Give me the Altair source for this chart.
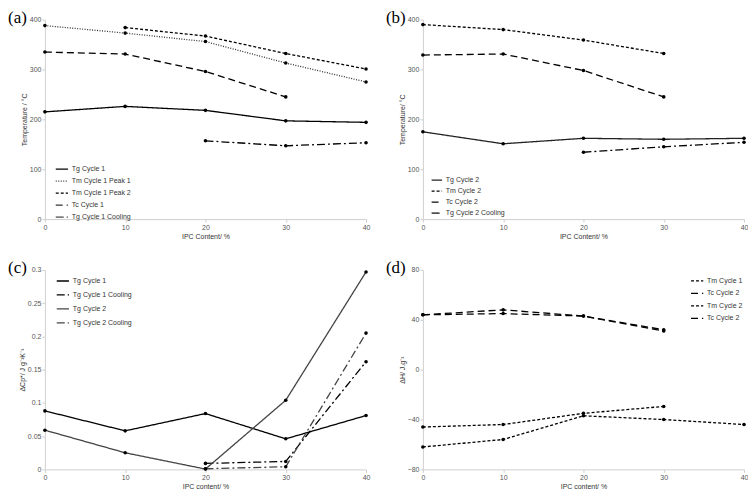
import altair as alt
import pandas as pd

# ---------------- data ----------------
x_vals = [0, 10, 20, 30, 40]

# (a) temperatures, cycle 1
a_names = ["Tg Cycle 1", "Tm Cycle 1 Peak 1", "Tm Cycle 1 Peak 2", "Tc Cycle 1", "Tg Cycle 1 Cooling"]
a_tg1 = [215, 226, 218, 197, 194]
a_tm1p1 = [388, 373, 356, 313, 275]
a_tm1p2 = [None, 384, 367, 332, 301]
a_tc1 = [335, 331, 296, 245, None]
a_tg1c = [None, None, 157, 147, 153]

# (b) temperatures, cycle 2
b_names = ["Tg Cycle 2", "Tm Cycle 2", "Tc Cycle 2", "Tg Cycle 2 Cooling"]
b_tg2 = [175, 151, 162, 160, 162]
b_tm2 = [390, 380, 359, 332, None]
b_tc2 = [329, 331, 298, 245, None]
b_tg2c = [None, None, 134, 145, 154]

# (c) delta Cp
c_names = ["Tg Cycle 1", "Tg Cycle 1 Cooling", "Tg Cycle 2", "Tg Cycle 2 Cooling"]
c_tg1 = [0.088, 0.058, 0.084, 0.046, 0.081]
c_tg1c = [None, None, 0.009, 0.012, 0.162]
c_tg2 = [0.059, 0.025, 0.0005, 0.104, 0.297]
c_tg2c = [None, None, 0.001, 0.004, 0.205]

# (d) delta H
d_names = ["Tm Cycle 1", "Tc Cycle 2", "Tm Cycle 2", "Tc Cycle 2 "]
d_tm1 = [-62, -56, -37, -40, -44]
d_tc1 = [44, 48, 43, 32, None]
d_tm2 = [-46, -44, -35, -29.5, None]
d_tc2 = [44, 45, 43, 31, None]

FONT = "Liberation Sans"
SOLID = [1, 0]
DOT = [1, 1.5]
SHORT = [3, 2]
LONG = [7, 4]
DASHDOT = [8, 3, 2, 3]


def long_df(names, series, key):
    rows = []
    for n, vals in zip(names, series):
        for x, v in zip(x_vals, vals):
            if v is not None:
                rows.append({"x": x, "y": v, key: n})
    return pd.DataFrame(rows)


def panel(key, names, series, dashes, colors, widths, label, ytitle, xtitle,
          ydomain, yvalues, yformat, lx, ly, rowpad, symsize):
    df = long_df(names, series, key)
    W, H = 322, 200
    xenc = alt.X("x:Q", scale=alt.Scale(domain=[0, 40], nice=False),
                 axis=alt.Axis(values=x_vals, format="d", title=xtitle, labelFlush=False))
    yenc = alt.Y("y:Q", scale=alt.Scale(domain=ydomain, nice=False),
                 axis=alt.Axis(values=yvalues, format=yformat, title=ytitle, labelOverlap=False))
    legend = alt.Legend(orient="none", legendX=lx, legendY=ly, title=None,
                        symbolType="stroke", symbolStrokeWidth=1.2, symbolSize=symsize,
                        labelFont=FONT, labelFontSize=7, labelColor="#333333",
                        rowPadding=rowpad, padding=0, labelOffset=3)
    f = f"{key}:N"
    lines = alt.Chart(df).mark_line(strokeWidth=1.3).encode(
        x=xenc, y=yenc,
        strokeDash=alt.StrokeDash(f, scale=alt.Scale(domain=names, range=dashes), legend=legend),
        color=alt.Color(f, scale=alt.Scale(domain=names, range=colors), legend=legend),
        strokeWidth=alt.StrokeWidth(f, scale=alt.Scale(domain=names, range=widths), legend=None),
    )
    pts = alt.Chart(df).mark_circle(size=13, color="black", opacity=1).encode(
        x=xenc, y=yenc, detail=f)
    lab = alt.Chart(pd.DataFrame({"t": [label]})).mark_text(
        font="Liberation Serif", fontSize=17, align="left", baseline="alphabetic", color="black"
    ).encode(text="t:N", x=alt.value(-37), y=alt.value(3))
    return alt.layer(lines, pts, lab).properties(width=W, height=H)


pa = panel("sa", a_names, [a_tg1, a_tm1p1, a_tm1p2, a_tc1, a_tg1c],
           [SOLID, DOT, SHORT, LONG, DASHDOT],
           ["#000000", "#333333", "#000000", "#000000", "#000000"],
           [1.3, 0.9, 1.2, 1.3, 1.2],
           "(a)", "Temperature / °C", "IPC Content/ %",
           [0, 400], [0, 100, 200, 300, 400], "d", 10, 143, 2, 150)

pb = panel("sb", b_names, [b_tg2, b_tm2, b_tc2, b_tg2c],
           [SOLID, SHORT, LONG, DASHDOT],
           ["#222222", "#000000", "#000000", "#000000"],
           [1.2, 1.2, 1.2, 1.2],
           "(b)", "Temperature/ °C", "IPC Content/ %",
           [0, 400], [0, 100, 200, 300, 400], "d", 8, 155, 2, 110)

pc = panel("sc", c_names, [c_tg1, c_tg1c, c_tg2, c_tg2c],
           [SOLID, DASHDOT, SOLID, DASHDOT],
           ["#000000", "#000000", "#444444", "#444444"],
           [1.5, 1.2, 1.0, 1.0],
           "(c)", "ΔCp*/ J g⁻¹K⁻¹", "IPC content/ %",
           [0, 0.3], [0, 0.05, 0.1, 0.15, 0.2, 0.25, 0.3], "~g", 11, 4, 4, 150)

pd_ = panel("sd", d_names, [d_tm1, d_tc1, d_tm2, d_tc2],
            [SHORT, LONG, SHORT, LONG],
            ["#000000", "#000000", "#000000", "#000000"],
            [1.2, 1.2, 1.2, 1.2],
            "(d)", "ΔH/ J.g⁻¹", "IPC content/ %",
            [-80, 80], [-80, -40, 0, 40, 80], "d", 268, 4, 2.5, 150)

RES = dict(color="independent", strokeDash="independent", strokeWidth="independent")

row1 = alt.hconcat(pa, pb, spacing=16).resolve_scale(**RES)
row2 = alt.hconcat(pc, pd_, spacing=16).resolve_scale(**RES)

chart = alt.vconcat(row1, row2, spacing=20).resolve_scale(**RES).properties(
    padding=0
).configure_view(stroke=None).configure_axis(
    grid=False,
    domainColor="#d0d0d0",
    tickColor="#d0d0d0",
    tickSize=3,
    labelFont=FONT,
    labelFontSize=7,
    labelColor="#555555",
    titleFont=FONT,
    titleFontSize=7,
    titleFontWeight="normal",
    titleColor="#333333",
    labelPadding=1,
    titlePadding=2,
)

chart.save("out.html", embed_options={"renderer": "svg", "actions": False})
